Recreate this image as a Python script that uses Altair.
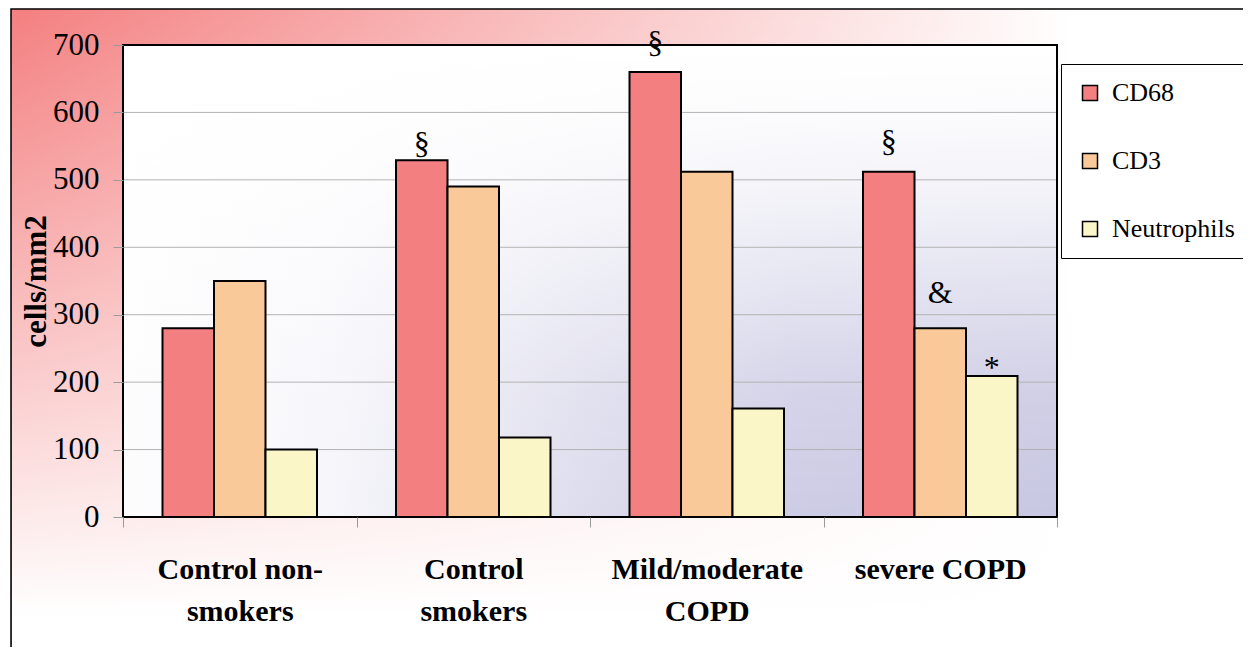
import altair as alt
import pandas as pd

# ---------------- data ----------------
categories = ["Control non-smokers", "Control smokers", "Mild/moderate COPD", "severe COPD"]
label_lines = [["Control non-", "smokers"], ["Control", "smokers"], ["Mild/moderate", "COPD"], ["severe COPD"]]
series = ["CD68", "CD3", "Neutrophils"]
cd68 = [280, 529, 660, 512]
cd3 = [350, 490, 512, 280]
neutrophils = [100, 118, 161, 209]
y_ticks = [0, 100, 200, 300, 400, 500, 600, 700]

ann_category = ["Control smokers", "Mild/moderate COPD", "severe COPD", "severe COPD", "severe COPD"]
ann_series = ["CD68", "CD68", "CD68", "CD3", "Neutrophils"]
ann_label = ["§", "§", "§", "&", "*"]
ann_y = [539, 688, 541, 318, 206]

colors = ["#f47f80", "#f9c99a", "#faf6c8"]

rows = []
for i, c in enumerate(categories):
    for s, vals in zip(series, [cd68, cd3, neutrophils]):
        rows.append({"category": c, "series": s, "value": vals[i]})
bars_df = pd.DataFrame(rows)
ann_df = pd.DataFrame({"category": ann_category, "series": ann_series,
                       "label": ann_label, "ann_y": ann_y})
grid_df = pd.DataFrame({"tick": [t for t in y_ticks if t > 0]})

W, H = 934, 472
SERIF = "Liberation Serif"

# label expression for two-line category labels
expr = "''"
for c, lines in reversed(list(zip(categories, label_lines))):
    arr = "[" + ",".join("'" + l + "'" for l in lines) + "]"
    expr = f"datum.label == '{c}' ? {arr} : ({expr})"

one = alt.Data(values=[{"k": 1}])

# ---------------- decorative backgrounds ----------------
outer_h = alt.Chart(one).mark_rect(
    fill=alt.LinearGradient(gradient="linear", x1=0, y1=0, x2=1, y2=0,
                            stops=[alt.GradientStop(color="#f47f80", offset=0),
                                   alt.GradientStop(color="#ffffff", offset=0.85)]),
    stroke="black", strokeWidth=1.5
).encode(x=alt.value(-112), x2=alt.value(1140), y=alt.value(-36), y2=alt.value(640))

outer_v = alt.Chart(one).mark_rect(
    fill=alt.LinearGradient(gradient="linear", x1=0, y1=0, x2=0, y2=1,
                            stops=[alt.GradientStop(color="rgba(255,255,255,0)", offset=0),
                                   alt.GradientStop(color="rgba(255,255,255,1)", offset=0.9)])
).encode(x=alt.value(-111), x2=alt.value(1140), y=alt.value(-35), y2=alt.value(640))

plot_h = alt.Chart(one).mark_rect(
    fill=alt.LinearGradient(gradient="linear", x1=0, y1=0, x2=1, y2=0,
                            stops=[alt.GradientStop(color="#fdfdfe", offset=0),
                                   alt.GradientStop(color="#f6f6fb", offset=0.22),
                                   alt.GradientStop(color="#dedded", offset=0.49),
                                   alt.GradientStop(color="#cdcce5", offset=0.72),
                                   alt.GradientStop(color="#c8c7e2", offset=1)])
).encode(x=alt.value(0), x2=alt.value(W), y=alt.value(0), y2=alt.value(H))

plot_v = alt.Chart(one).mark_rect(
    fill=alt.LinearGradient(gradient="linear", x1=0, y1=0, x2=0, y2=1,
                            stops=[alt.GradientStop(color="rgba(255,255,255,1)", offset=0),
                                   alt.GradientStop(color="rgba(255,255,255,0.95)", offset=0.12),
                                   alt.GradientStop(color="rgba(255,255,255,0.8)", offset=0.29),
                                   alt.GradientStop(color="rgba(255,255,255,0.6)", offset=0.43),
                                   alt.GradientStop(color="rgba(255,255,255,0.4)", offset=0.57),
                                   alt.GradientStop(color="rgba(255,255,255,0.15)", offset=0.74),
                                   alt.GradientStop(color="rgba(255,255,255,0)", offset=1)])
).encode(x=alt.value(0), x2=alt.value(W), y=alt.value(0), y2=alt.value(H))

y_scale = alt.Scale(domain=[0, 700], nice=False, zero=True)

grid = alt.Chart(grid_df).mark_rule(color="#b3b3b3", strokeWidth=1).encode(
    y=alt.Y("tick:Q", scale=y_scale)
)

border = alt.Chart(one).mark_rect(fillOpacity=0, stroke="black", strokeWidth=2).encode(
    x=alt.value(0), x2=alt.value(W), y=alt.value(0), y2=alt.value(H)
)

x_enc = alt.X(
    "category:N", sort=categories,
    scale=alt.Scale(paddingInner=0, paddingOuter=0),
    axis=alt.Axis(title=None, labelAngle=0, tickBand="extent", tickColor="#9a9a9a",
                  tickSize=10, domain=False, labelFont=SERIF, labelFontSize=30,
                  labelFontWeight="bold", labelColor="black", labelPadding=27,
                  labelLineHeight=42, labelExpr=expr, labelLimit=400, zindex=1)
)
xoff_enc = alt.XOffset("series:N", sort=series,
                       scale=alt.Scale(paddingInner=0, paddingOuter=0.767))

bars = alt.Chart(bars_df).mark_bar(stroke="black", strokeWidth=2).encode(
    x=x_enc,
    xOffset=xoff_enc,
    y=alt.Y("value:Q", scale=y_scale,
            axis=alt.Axis(values=y_ticks, title="cells/mm2", grid=False, domain=False,
                          tickColor="#9a9a9a", tickSize=10, labelFont=SERIF,
                          labelFontSize=31, labelColor="black", labelPadding=14,
                          titleFont=SERIF, titleFontSize=31, titleFontWeight="bold",
                          titleColor="black", titleX=-87, titleY=H / 2, titleAngle=-90,
                          titleAlign="center", titleBaseline="middle", zindex=1)),
    color=alt.Color("series:N", sort=series,
                    scale=alt.Scale(domain=series, range=colors),
                    legend=alt.Legend(title=None, orient="none", legendX=938, legendY=19,
                                      padding=16, rowPadding=42, symbolType="square",
                                      symbolSize=225, symbolStrokeColor="black",
                                      symbolStrokeWidth=1.5, labelFont=SERIF,
                                      labelFontSize=26, labelColor="black", labelOffset=9,
                                      strokeColor="black", fillColor="white"))
)

texts = alt.Chart(ann_df).mark_text(font=SERIF, fontSize=32, color="black",
                                    align="center", baseline="alphabetic").encode(
    x=alt.X("category:N", sort=categories),
    xOffset=alt.XOffset("series:N", sort=series),
    y=alt.Y("ann_y:Q", scale=y_scale),
    text="label:N"
)

chart = alt.layer(outer_h, outer_v, plot_h, plot_v, grid, border, bars, texts).properties(
    width=W, height=H,
    padding={"left": 115, "top": 37, "right": 186, "bottom": 130},
    autosize=alt.AutoSizeParams(type="none")
).configure(background="white").configure_view(stroke=None).configure_axis(
    grid=False
).configure_legend(labelFont=SERIF, labelFontSize=26, labelColor="black")

chart.save("out.html", embed_options={"renderer": "svg", "actions": False})
